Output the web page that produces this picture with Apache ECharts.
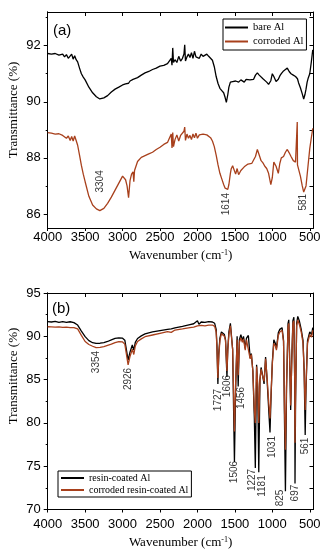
<!DOCTYPE html>
<html><head><meta charset="utf-8">
<script src="https://cdn.jsdelivr.net/npm/echarts@6/dist/echarts.min.js"></script>
<style>html,body{margin:0;padding:0;background:#fff}#c{width:331px;height:550px}</style>
</head><body><div id="c"></div>
<script>
// ---------- Panel (a) ----------
const wnA = [4000,3950,3900,3850,3800,3775,3750,3725,3700,3680,3660,3640,3620,3600,3575,3550,3525,3500,3450,3400,3350,3304,3250,3200,3150,3100,3050,3000,2960,2940,2920,2900,2880,2860,2850,2840,2800,2750,2700,2650,2600,2550,2500,2450,2400,2375,2350,2340,2330,2320,2300,2275,2250,2225,2200,2180,2170,2160,2140,2120,2100,2080,2060,2040,2020,2000,1975,1950,1925,1900,1875,1850,1825,1800,1775,1750,1725,1700,1675,1650,1630,1614,1595,1580,1560,1550,1530,1510,1490,1470,1450,1420,1400,1375,1350,1325,1300,1275,1250,1225,1200,1175,1150,1125,1100,1075,1050,1020,1000,980,950,920,900,880,850,825,800,775,750,720,690,670,667,664,650,625,600,581,565,550,535,520,500,480,460];
const bareAl = [91.72,91.70,91.72,91.66,91.70,91.60,91.68,91.55,91.62,91.70,91.52,91.64,91.50,91.42,91.20,91.00,90.88,90.78,90.52,90.32,90.18,90.10,90.14,90.22,90.35,90.45,90.52,90.60,90.64,90.68,90.66,90.74,90.78,90.80,90.78,90.82,90.86,90.95,91.03,91.08,91.15,91.20,91.27,91.30,91.36,91.40,91.55,91.30,91.92,91.40,91.50,91.40,91.62,91.45,91.55,91.70,92.03,91.45,91.60,91.70,91.58,91.75,91.55,91.80,91.60,91.65,91.55,91.70,91.62,91.66,91.70,91.62,91.58,91.48,91.25,90.90,90.65,90.48,90.40,90.32,90.15,89.98,90.25,90.52,90.70,90.76,90.72,90.78,90.74,90.78,90.70,90.78,90.76,90.70,90.80,90.75,90.78,90.85,90.80,90.95,91.03,90.95,90.88,90.82,90.75,90.70,90.62,90.75,91.00,90.90,90.72,90.80,90.92,91.00,91.10,91.15,91.20,91.08,91.00,90.95,90.90,90.88,90.85,90.82,90.68,90.50,90.28,90.10,90.25,90.45,90.70,90.85,91.00,91.40,91.85];
const corrodedAl = [88.90,88.88,88.85,88.86,88.80,88.84,88.70,88.78,88.62,88.76,88.60,88.78,88.62,88.45,88.10,87.73,87.42,87.15,86.63,86.32,86.18,86.12,86.20,86.38,86.60,86.85,87.10,87.35,87.22,87.00,86.58,87.20,87.42,87.50,87.15,87.55,87.87,88.02,88.08,88.14,88.20,88.30,88.38,88.48,88.55,88.70,88.85,88.35,88.90,88.40,88.65,88.82,88.60,88.80,88.75,88.95,89.10,88.62,88.85,88.70,88.80,88.65,88.85,88.72,88.88,88.70,88.82,88.75,88.85,88.80,88.82,88.78,88.72,88.60,88.40,88.10,87.75,87.45,87.25,87.05,86.92,86.85,86.88,87.05,87.45,87.60,87.72,87.65,87.42,87.62,87.40,87.55,87.60,87.68,87.65,87.78,87.83,87.80,87.74,88.05,88.30,88.10,87.90,87.82,87.70,87.62,87.45,87.05,87.30,87.85,87.70,87.45,87.80,88.00,88.05,88.20,88.30,88.18,88.05,87.90,87.85,87.80,89.28,87.75,87.70,87.35,87.00,86.78,86.85,87.00,87.40,87.80,88.33,88.70,89.05];
const annotA_text = ['3304','1614','581'];
const annotA_w = [3304,1614,581];
const annotA_v = [87.16,86.35,86.42];

// ---------- Panel (b) ----------
const wnB = [4000,3950,3900,3850,3800,3750,3700,3650,3600,3550,3500,3450,3400,3354,3300,3250,3200,3150,3100,3050,3000,2970,2950,2926,2900,2870,2850,2830,2800,2750,2700,2600,2500,2400,2350,2330,2300,2200,2100,2050,2000,1980,1950,1900,1850,1800,1770,1750,1740,1727,1715,1700,1680,1660,1640,1625,1606,1595,1580,1560,1545,1530,1506,1490,1470,1456,1440,1420,1400,1385,1362,1345,1320,1296,1280,1260,1240,1227,1210,1195,1181,1165,1150,1130,1110,1090,1070,1045,1031,1015,1000,980,960,945,920,900,870,850,837,825,810,790,780,765,755,740,725,712,700,697,690,675,660,640,614,590,575,561,550,530,500,475,460];
const resinCoated = [91.70,91.65,91.72,91.62,91.70,91.60,91.68,91.58,91.30,90.60,89.96,89.50,89.26,89.18,89.20,89.28,89.40,89.58,89.75,89.82,89.78,89.55,89.70,87.25,88.20,89.00,88.40,89.30,89.75,90.05,90.28,90.50,90.66,90.80,90.85,90.95,90.96,91.15,91.35,91.45,91.80,91.40,91.65,91.60,91.70,91.65,91.50,90.80,89.00,84.50,88.00,89.80,90.50,90.60,90.20,89.60,85.30,88.50,90.50,91.50,91.30,88.50,75.50,84.00,90.00,84.20,89.60,90.20,89.50,90.00,88.60,89.80,90.10,87.50,88.00,86.00,80.50,74.80,86.70,84.00,74.30,85.00,86.40,85.50,84.50,87.60,85.00,81.00,78.90,83.50,87.00,89.60,89.20,88.60,90.40,90.80,91.00,89.50,80.00,72.10,84.00,91.50,91.90,86.00,81.50,87.50,91.80,92.20,84.00,73.00,82.00,91.50,92.30,91.80,90.80,89.50,86.00,78.60,84.00,89.50,90.50,90.20,91.00];
const corrodedResin = [91.10,91.08,91.05,91.10,91.02,91.05,91.00,91.00,90.85,90.10,89.40,89.05,88.85,88.70,88.72,88.80,88.95,89.10,89.28,89.38,89.35,89.10,89.25,86.70,87.70,88.50,87.90,88.90,89.40,89.70,89.95,90.15,90.35,90.55,90.45,90.30,90.72,90.85,91.00,91.05,91.20,91.15,91.25,91.20,91.28,91.30,91.15,90.50,88.80,85.20,87.80,89.50,90.30,90.40,90.00,89.50,86.00,88.30,90.20,91.20,91.00,88.50,79.00,84.50,89.60,85.50,89.30,89.80,89.30,89.70,88.40,89.60,89.80,87.40,87.90,86.00,81.50,80.00,86.50,84.50,80.00,85.00,86.20,85.40,84.80,87.40,85.20,82.00,80.50,83.80,86.80,89.20,88.90,88.40,90.10,90.50,90.70,89.40,81.50,76.90,84.50,91.10,91.50,86.00,82.00,87.20,91.50,91.80,84.50,77.70,83.00,91.20,91.90,91.40,90.50,89.20,86.00,81.50,84.50,89.20,90.20,89.90,90.70];
const annotB_text = ['3354','2926','1727','1606','1456','1506','1227','1181','1031','825','697','561'];
const annotB_w = [3354,2926,1727,1606,1410,1506,1263,1130,1000,890,690,557];
const annotB_v = [87.03,85.07,82.64,84.26,82.88,74.33,73.41,72.71,77.22,71.33,71.90,77.33];

// ---------- Ticks ----------
const xTicks = [500,1000,1500,2000,2500,3000,3500,4000];
const yTicksA = [86,88,90,92];
const yMinorA = [87,89,91,93];
const yRightA = [86,87,88,89,90,91,92,93];
const yTicksB = [70,75,80,85,90,95];
const yMinorB = [72.5,77.5,82.5,87.5,92.5];
const yRightB = [70,72.5,75,77.5,80,82.5,85,87.5,90,92.5,95];

const RED = '#a8401c';
const SANS = 'Liberation Sans';
const SERIF = 'Liberation Serif';
const pair = (xs, ys) => xs.map((x,i)=>[x, ys[i]]);
const annot = (ws, vs, ts) => ws.map((w,i)=>({value:[w, vs[i]], name: ts[i]}));
const plain = v => String(v);

const grids = [
  {left:47.7, right:17.5, top:12, height:216},
  {left:47.7, right:17.5, top:293, height:216.5}
];
const yr = [[85.5, 93.2],[70,95]];
const axLine = {show:true, lineStyle:{color:'#000', width:1}};

function xAxes(g, margin){
  return [
    {gridIndex:g, type:'value', min:450, max:4000, inverse:true, position:'bottom',
     axisLine:axLine, splitLine:{show:false},
     axisTick:{customValues:xTicks, inside:false, length:3, lineStyle:{color:'#000'}},
     axisLabel:{customValues:xTicks, formatter:plain, margin:margin, color:'#000', fontFamily:SANS, fontSize:13},
     name:'Wavenumber (cm{s|-1})', nameLocation:'middle', nameGap: margin + 18,
     nameTextStyle:{fontFamily:SERIF, fontSize:13, color:'#000',
       rich:{s:{fontFamily:SERIF, fontSize:8, verticalAlign:'top', padding:[0,0,6,0], color:'#000'}}}},
    {gridIndex:g, type:'value', min:450, max:4000, inverse:true, position:'top',
     axisLine:axLine, splitLine:{show:false},
     axisTick:{customValues:xTicks, inside:true, length:4, lineStyle:{color:'#000'}},
     axisLabel:{show:false}}
  ];
}
function yAxes(g, major, minor, right){
  const [mn,mx] = yr[g];
  return [
    {gridIndex:g, type:'value', min:mn, max:mx, position:'left', axisLine:axLine, splitLine:{show:false},
     axisTick:{customValues:major, inside:false, length:4, lineStyle:{color:'#000'}},
     axisLabel:{customValues:major, formatter:plain, margin:7, color:'#000', fontFamily:SANS, fontSize:13}},
    {gridIndex:g, type:'value', min:mn, max:mx, position:'left', axisLine:axLine, splitLine:{show:false},
     axisTick:{customValues:minor, inside:false, length:2, lineStyle:{color:'#000'}},
     axisLabel:{show:false}},
    {gridIndex:g, type:'value', min:mn, max:mx, position:'right', axisLine:axLine, splitLine:{show:false},
     axisTick:{customValues:right, inside:true, length:4, lineStyle:{color:'#000'}},
     axisLabel:{show:false}}
  ];
}

const lineSeries = (name, xi, yi, data, color, w) => ({
  type:'line', name, xAxisIndex:xi, yAxisIndex:yi, data, showSymbol:false, symbol:'none',
  lineStyle:{color, width:w}, itemStyle:{color}, animation:false
});
const annotSeries = (xi, yi, data) => ({
  type:'scatter', xAxisIndex:xi, yAxisIndex:yi, data, symbolSize:0, silent:true,
  label:{show:true, position:'inside', rotate:90, formatter:p=>p.name, color:'#000',
         fontFamily:SANS, fontSize:10}
});

const legendBase = {orient:'vertical', borderColor:'#000', borderWidth:1, icon:'rect',
  itemWidth:23, itemHeight:2, itemGap:2, backgroundColor:'#fff',
  textStyle:{fontFamily:SERIF, color:'#000'}};

const option = {
  animation:false,
  backgroundColor:'#fff',
  grid: grids,
  xAxis: [...xAxes(0, 3), ...xAxes(1, 8)],
  yAxis: [...yAxes(0, yTicksA, yMinorA, yRightA), ...yAxes(1, yTicksB, yMinorB, yRightB)],
  legend: [
    Object.assign({}, legendBase, {data:['bare Al','corroded Al'], left:223, top:19, padding:[3,3,3,2], itemGap:3,
      textStyle:{fontFamily:SERIF, fontSize:10.5, color:'#000'}}),
    Object.assign({}, legendBase, {data:['resin-coated Al','corroded resin-coated Al'], left:58, top:471, padding:[2,3,2,3],
      textStyle:{fontFamily:SERIF, fontSize:10, color:'#000'}})
  ],
  series: [
    lineSeries('bare Al', 0, 0, pair(wnA, bareAl), '#000', 1.3),
    lineSeries('corroded Al', 0, 0, pair(wnA, corrodedAl), RED, 1.3),
    annotSeries(0, 0, annot(annotA_w, annotA_v, annotA_text)),
    lineSeries('resin-coated Al', 2, 3, pair(wnB, resinCoated), '#000', 1.3),
    lineSeries('corroded resin-coated Al', 2, 3, pair(wnB, corrodedResin), RED, 1.3),
    annotSeries(2, 3, annot(annotB_w, annotB_v, annotB_text))
  ],
  graphic: [
    {type:'text', left:53, top:23, style:{text:'(a)', font:'15px "Liberation Sans"', fill:'#000'}},
    {type:'text', left:52, top:301, style:{text:'(b)', font:'15px "Liberation Sans"', fill:'#000'}},
    {type:'text', x:14, y:110, rotation:Math.PI/2, style:{text:'Transmittance (%)', font:'13px "Liberation Serif"', fill:'#000', align:'center', verticalAlign:'middle'}},
    {type:'text', x:14, y:376, rotation:Math.PI/2, style:{text:'Transmittance (%)', font:'13px "Liberation Serif"', fill:'#000', align:'center', verticalAlign:'middle'}}
  ]
};
const chart = echarts.init(document.getElementById('c'), null, {renderer:'canvas'});
chart.setOption(option);
</script>
</body></html>
